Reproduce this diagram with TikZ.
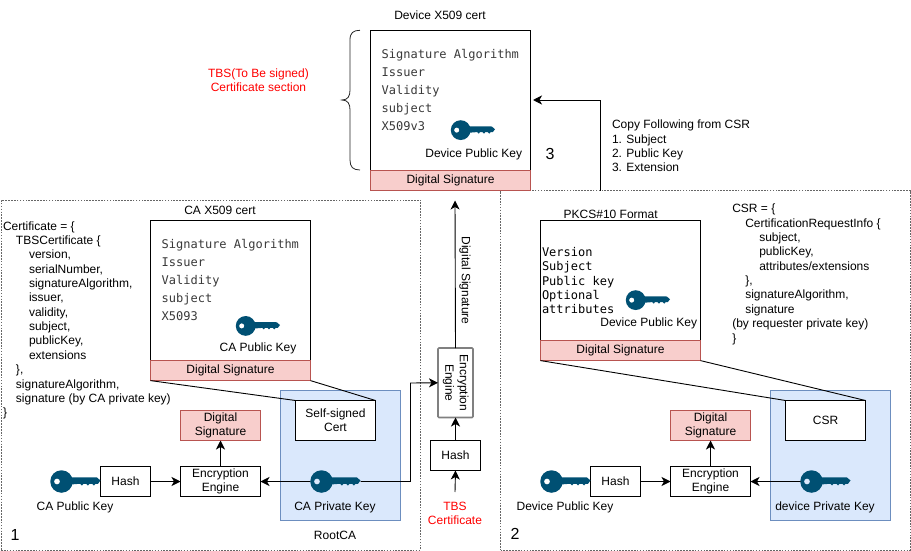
\documentclass[tikz,border=0pt]{standalone}
\usepackage{fontspec}
\usepackage{graphicx}
\setmainfont{Liberation Sans}
\newfontfamily\monof{DejaVu Sans Mono}
\usetikzlibrary{arrows.meta,positioning}
\definecolor{keyblue}{HTML}{005073}
\definecolor{sigfill}{HTML}{F8CECC}
\definecolor{sigline}{HTML}{B85450}
\definecolor{bluefill}{HTML}{DAE8FC}
\definecolor{blueline}{HTML}{6C8EBF}
\definecolor{monogray}{HTML}{3A3A3A}
\definecolor{dashgray}{HTML}{666666}
\newcommand{\keyglyph}[2]{%
  \begin{scope}[shift={(#1.south west)}, x=1pt, y=1pt, scale={#2/100}]
    \fill[keyblue, even odd rule] (22,23) circle (22.5) (13,23) circle (6);
    \fill[keyblue] (32,31.5) -- (90,31.5) -- (93,31) -- (100,25) -- (95,18.5) -- (90,18.5) -- (87,15) -- (83.5,18.5) -- (78,18.5) -- (75,15) -- (71.5,18.5) -- (66,18.5) -- (63,15) -- (59.5,18.5) -- (40,17) -- (32,14) -- cycle;
  \end{scope}}
\tikzset{
  every node/.style={font=\fontsize{12}{14.35}\selectfont, inner sep=0pt, outer sep=0pt, align=center},
  ln/.style={draw=black, line width=0.9pt},
  arr/.style={ln, -{Stealth[length=9pt,width=9pt,inset=2.5pt]}},
  zone/.style={draw=dashgray, line width=0.7pt, dash pattern=on 1.6pt off 1.3pt},
  card/.style={draw=black, fill=white, line width=0.9pt, rectangle},
  sigbox/.style={draw=sigline, fill=sigfill, line width=0.9pt, rectangle},
  privzone/.style={draw=blueline, fill=bluefill, line width=0.9pt, rectangle},
  listing/.style={anchor=north west, align=left},
  monolist/.style={anchor=north west, align=left, text=monogray, font=\monof\fontsize{12}{18}\selectfont},
  keyicon/.style={rectangle, minimum width={#1*1pt}, minimum height={#1*0.46pt}},
}
\begin{document}
\begin{tikzpicture}[x=1pt,y=-1pt]
\useasboundingbox (0,0) rectangle (911,551);

% dashed zones
\node[zone, rectangle, minimum width=419.5pt, minimum height=350pt, anchor=north west] (zoneA) at (1,200) {};
\node[zone, rectangle, minimum width=409.5pt, minimum height=359.5pt, anchor=north west] (zoneB) at (500.5,190.5) {};

% device certificate
\node[card, minimum width=160.5pt, minimum height=140pt, anchor=north west] (devcert) at (370.3,30.3) {};
\node[sigbox, minimum width=160.5pt, minimum height=20.3pt, anchor=north west] (devsig) at (370.3,170.3) {Digital Signature};
\node (devtitle) at (440,15) {Device X509 cert};
\node[monolist] (devlist) at (381.7,49.5) {Signature Algorithm\\Issuer\\Validity\\subject\\X509v3};
\node[keyicon=44, anchor=north west] (devkey) at (451,120) {};
\keyglyph{devkey}{44}
\node (devkeylbl) at (473.7,154) {Device Public Key};
\node (num3) at (550,154) {\fontsize{16}{18}\selectfont 3};
\node[text=red] (tbssec) at (258.5,80.5) {TBS(To Be signed)\\Certificate section};
\coordinate (braceA) at (360,30.3);
\coordinate (braceB) at (360,170);
\draw[line width=0.8pt, black!85] (braceA) .. controls (353,30.3) and (350,33) .. (350,40) -- (350,90) .. controls (350,96) and (348,100) .. (342,100) .. controls (348,100) and (350,104) .. (350,110) -- (350,160) .. controls (350,167) and (353,170) .. (braceB);
\node[listing] (copytxt) at (612,120) {Copy Following from CSR\\1. Subject\\2. Public Key\\3. Extension};

% CA certificate
\node[card, minimum width=160pt, minimum height=140pt, anchor=north west] (cacert) at (150.5,220.3) {};
\node[sigbox, minimum width=160pt, minimum height=20.3pt, anchor=north west] (casig) at (150.5,360.3) {Digital Signature};
\node (catitle) at (220,210) {CA X509 cert};
\node[monolist] (calist) at (161.7,239.5) {Signature Algorithm\\Issuer\\Validity\\subject\\X5093};
\node[keyicon=44, anchor=north west] (cakey) at (236,315.8) {};
\keyglyph{cakey}{44}
\node (cakeylbl) at (258,348.7) {CA Public Key};
\node[listing] (certtxt) at (3,221.5) {Certificate = \{\\
\hspace*{13pt}TBSCertificate \{\\
\hspace*{26pt}version,\\
\hspace*{26pt}serialNumber,\\
\hspace*{26pt}signatureAlgorithm,\\
\hspace*{26pt}issuer,\\
\hspace*{26pt}validity,\\
\hspace*{26pt}subject,\\
\hspace*{26pt}publicKey,\\
\hspace*{26pt}extensions\\
\hspace*{13pt}\},\\
\hspace*{13pt}signatureAlgorithm,\\
\hspace*{13pt}signature (by CA private key)\\
\}};

% Root CA internals
\node[privzone, minimum width=120pt, minimum height=130pt, anchor=north west] (rootzone) at (280.5,390.5) {};
\node[card, minimum width=80pt, minimum height=40pt, anchor=north west] (selfcert) at (295.5,400.5) {Self-signed\\Cert};
\node[sigbox, minimum width=80pt, minimum height=30pt, anchor=north west] (casig2) at (180.5,410.5) {Digital\\Signature};
\node[card, minimum width=50pt, minimum height=30pt, anchor=north west] (cahash) at (100.5,466.5) {Hash};
\node[card, minimum width=80pt, minimum height=30pt, anchor=north west] (caeng) at (180.5,466.5) {Encryption\\Engine};
\node[keyicon=50, anchor=north west] (capub) at (50.5,470) {};
\keyglyph{capub}{50}
\node[keyicon=50, anchor=north west] (capriv) at (310.5,470) {};
\node (capublbl) at (75,507) {CA Public Key};
\node (caprivlbl) at (335,507) {CA Private Key};
\node (rootlbl) at (335,535) {RootCA};
\node (num1) at (15,535) {\fontsize{16}{18}\selectfont 1};
\draw[ln] (casig.south west) -- (selfcert.north west);
\draw[ln] (casig.south east) -- (selfcert.north east);
\draw[arr] (cahash.east) -- (caeng.west);
\draw[arr] (capriv.west) -- (caeng.east);
\draw[arr] (caeng.north) -- (casig2.south);

% centre column
\node[draw=black!50, line width=1.6pt, rounded corners=1pt, fill=white, minimum width=35pt, minimum height=69.5pt, anchor=north west] (ceng) at (438,348) {\rotatebox{-90}{\begin{tabular}{@{}c@{}}Encryption\\Engine\end{tabular}}};
\node[card, minimum width=50pt, minimum height=30pt, anchor=north west] (chash) at (430.5,440.5) {Hash};
\node[text=red] (tbslbl) at (455,513.5) {TBS\\Certificate};
\coordinate (tbstop) at (455,492);
\coordinate (sigtop) at (455,200.5);
\coordinate (jog) at (410.5,383);
\node[rotate=-90] (siglbl) at (465,280.5) {Digital Signature};
\draw[arr] (tbstop) -- (chash.south);
\draw[arr] (chash.north) -- (ceng.south);
\draw[arr] (ceng.north) -- (sigtop);
\draw[arr] (capriv.east) -| (jog) -- (ceng.west);
\keyglyph{capriv}{50}

% copy arrow
\coordinate (copyfoot) at (600.5,190.5);
\coordinate (copyin) at (533,100);
\draw[arr] (copyfoot) |- (copyin);

% PKCS10
\node[card, minimum width=160pt, minimum height=120pt, anchor=north west] (pkcs) at (540.5,220.5) {};
\node[sigbox, minimum width=160pt, minimum height=20.3pt, anchor=north west] (pksig) at (540.5,340.3) {Digital Signature};
\node (pktitle) at (610.7,214.5) {PKCS\#10 Format};
\node[anchor=north west, align=left, font=\monof\fontsize{12}{14.35}\selectfont] (pklist) at (542,247.2) {Version\\Subject\\Public key\\Optional\\attributes};
\node[keyicon=44, anchor=north west] (pkkey) at (626,290) {};
\keyglyph{pkkey}{44}
\node (pkkeylbl) at (648.7,323) {Device Public Key};
\node[listing] (csrtxt) at (732.3,204.2) {CSR = \{\\
\hspace*{13pt}CertificationRequestInfo \{\\
\hspace*{27pt}subject,\\
\hspace*{27pt}publicKey,\\
\hspace*{27pt}attributes/extensions\\
\hspace*{13pt}\},\\
\hspace*{13pt}signatureAlgorithm,\\
\hspace*{13pt}signature\\
(by requester private key)\\
\}};

% device internals
\node[privzone, minimum width=120pt, minimum height=130pt, anchor=north west] (devzone) at (770.5,390.5) {};
\node[card, minimum width=80pt, minimum height=40pt, anchor=north west] (csr) at (785.5,400.5) {CSR};
\node[sigbox, minimum width=80pt, minimum height=30pt, anchor=north west] (devsig2) at (670.5,410.5) {Digital\\Signature};
\node[card, minimum width=50pt, minimum height=30pt, anchor=north west] (devhash) at (590.5,466.5) {Hash};
\node[card, minimum width=80pt, minimum height=30pt, anchor=north west] (deveng) at (670.5,466.5) {Encryption\\Engine};
\node[keyicon=50, anchor=north west] (devpub) at (540.5,470) {};
\keyglyph{devpub}{50}
\node[keyicon=50, anchor=north west] (devpriv) at (800.5,470) {};
\keyglyph{devpriv}{50}
\node (devpublbl) at (565,507) {Device Public Key};
\node (devprivlbl) at (825,507) {device Private Key};
\node (num2) at (515,534) {\fontsize{16}{18}\selectfont 2};
\draw[ln] (pksig.south west) -- (csr.north west);
\draw[ln] (pksig.south east) -- (csr.north east);
\draw[arr] (devhash.east) -- (deveng.west);
\draw[arr] (devpriv.west) -- (deveng.east);
\draw[arr] (deveng.north) -- (devsig2.south);
\end{tikzpicture}
\end{document}
